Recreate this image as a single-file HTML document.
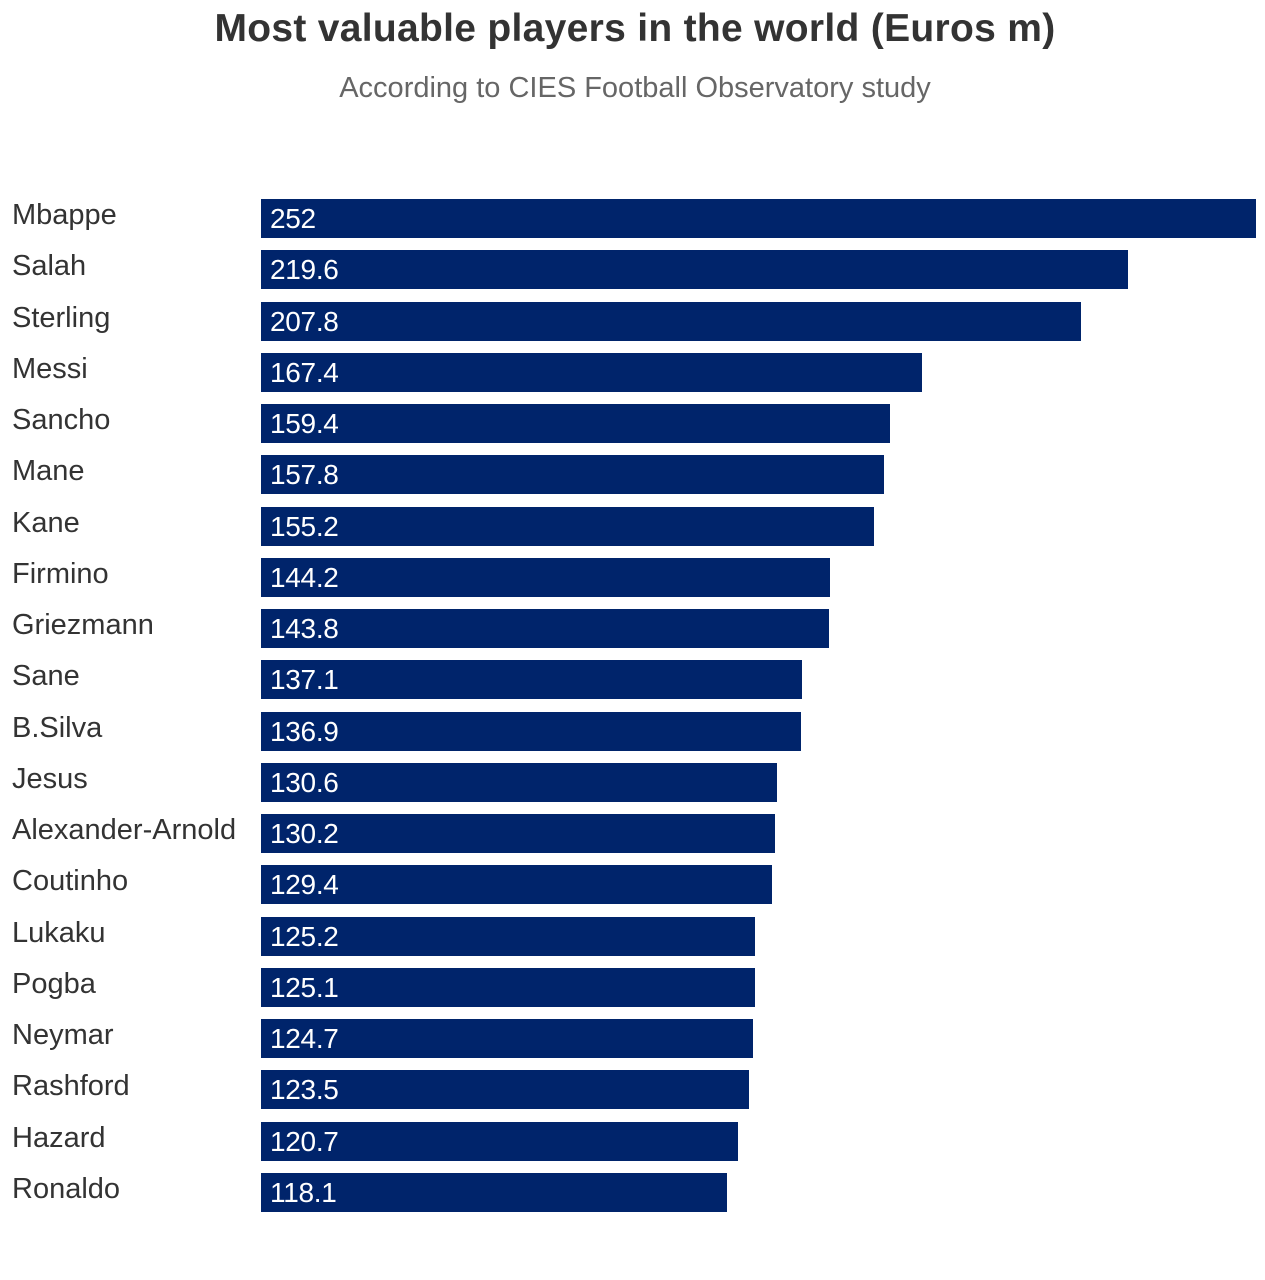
<!DOCTYPE html>
<html><head><meta charset="utf-8"><style>
body{margin:0;width:1265px;height:1280px;background:#fff;font-family:"Liberation Sans",sans-serif;position:relative;overflow:hidden}
.t{position:absolute;left:0;width:1270px;text-align:center}
.l{position:absolute;left:12px;font-size:29px;color:#333;line-height:39px;letter-spacing:0px}
.b{position:absolute;left:261px;height:39px;background:#00246b;color:#fff;font-size:28px;line-height:39px;box-sizing:border-box;padding-left:9px;letter-spacing:-0.3px}
</style></head><body>
<div class="t" style="top:7px;font-size:39px;font-weight:bold;color:#333;letter-spacing:0.3px">Most valuable players in the world (Euros m)</div>
<div class="t" style="top:72px;font-size:29px;color:#666;letter-spacing:0px">According to CIES Football Observatory study</div>
<div id="c"></div>
<script>
var d=[["Mbappe",252],["Salah",219.6],["Sterling",207.8],["Messi",167.4],["Sancho",159.4],["Mane",157.8],["Kane",155.2],["Firmino",144.2],["Griezmann",143.8],["Sane",137.1],["B.Silva",136.9],["Jesus",130.6],["Alexander-Arnold",130.2],["Coutinho",129.4],["Lukaku",125.2],["Pogba",125.1],["Neymar",124.7],["Rashford",123.5],["Hazard",120.7],["Ronaldo",118.1]];
var h="";d.forEach(function(r,i){var y=199+i*51.26;
h+='<div class="l" style="top:'+(y-3)+'px">'+r[0]+'</div><div class="b" style="top:'+y+'px;width:'+(r[1]*3.948)+'px">'+r[1]+'</div>';});
document.getElementById("c").innerHTML=h;
</script>
</body></html>
